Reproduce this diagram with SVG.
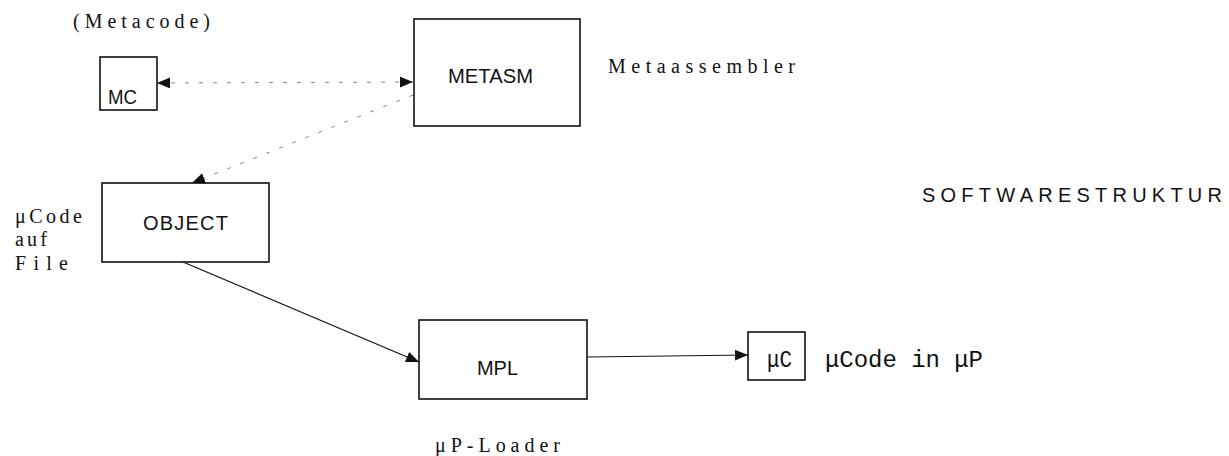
<svg xmlns="http://www.w3.org/2000/svg" width="1229" height="456" viewBox="0 0 1229 456">
<style>
.box{fill:none;stroke:#111;stroke-width:1.6}
.lbl{font-family:"Liberation Sans","DejaVu Sans",sans-serif;font-size:20px;fill:#111}
.ser{font-family:"Liberation Serif","DejaVu Serif",serif;font-size:20px;fill:#111}
.mono{font-family:"Liberation Mono","DejaVu Sans Mono",monospace;font-size:24px;fill:#111}
.solid{stroke:#111;stroke-width:1.2;fill:none}
.faint{stroke:#888;stroke-width:1;fill:none;stroke-dasharray:4 10}
</style>
<defs>
<marker id="ah" markerUnits="userSpaceOnUse" markerWidth="13" markerHeight="11" refX="12" refY="5" orient="auto-start-reverse" viewBox="0 0 12 10">
<path d="M0,0 L12,5 L0,10 z" fill="#111"/>
</marker>
</defs>
<text class="ser" x="73" y="28" textLength="137" lengthAdjust="spacing">(Metacode)</text>
<text class="ser" x="608" y="73" textLength="187" lengthAdjust="spacing">Metaassembler</text>
<text class="ser" x="15" y="223" textLength="67" lengthAdjust="spacing">μCode</text>
<text class="ser" x="15" y="246" textLength="32" lengthAdjust="spacing">auf</text>
<text class="ser" x="15" y="270" textLength="53" lengthAdjust="spacing">File</text>
<text class="ser" x="435" y="452" textLength="125" lengthAdjust="spacing">μP-Loader</text>
<text class="mono" x="825" y="367" textLength="158" lengthAdjust="spacing">μCode in μP</text>
<text class="lbl" x="922" y="202" font-size="21" textLength="300" lengthAdjust="spacing">SOFTWARESTRUKTUR</text>
<g id="connectors">
<line class="faint" x1="157" y1="83" x2="413" y2="82" marker-start="url(#ah)" marker-end="url(#ah)"/>
<line class="faint" x1="413" y1="95" x2="192" y2="183" marker-end="url(#ah)"/>
<line class="solid" x1="183" y1="262" x2="419" y2="362" marker-end="url(#ah)"/>
<line class="solid" x1="587" y1="357" x2="748" y2="355" marker-end="url(#ah)"/>
</g>
<g id="node-mc">
<rect class="box" x="100" y="57" width="57" height="53"/>
<text class="lbl" x="108" y="104" textLength="29" lengthAdjust="spacingAndGlyphs">MC</text>
</g>
<g id="node-metasm">
<rect class="box" x="414" y="19" width="166" height="107"/>
<text class="lbl" x="448" y="83" font-size="21" textLength="85" lengthAdjust="spacingAndGlyphs">METASM</text>
</g>
<g id="node-object">
<rect class="box" x="102" y="183" width="167" height="79"/>
<text class="lbl" x="143" y="230" textLength="85" lengthAdjust="spacing">OBJECT</text>
</g>
<g id="node-mpl">
<rect class="box" x="419" y="320" width="168" height="79"/>
<text class="lbl" x="477" y="375" textLength="41" lengthAdjust="spacing">MPL</text>
</g>
<g id="node-uc">
<rect class="box" x="748" y="332" width="57" height="48"/>
<text class="mono" x="767" y="367" font-size="22" textLength="25" lengthAdjust="spacingAndGlyphs">μC</text>
</g>
</svg>
